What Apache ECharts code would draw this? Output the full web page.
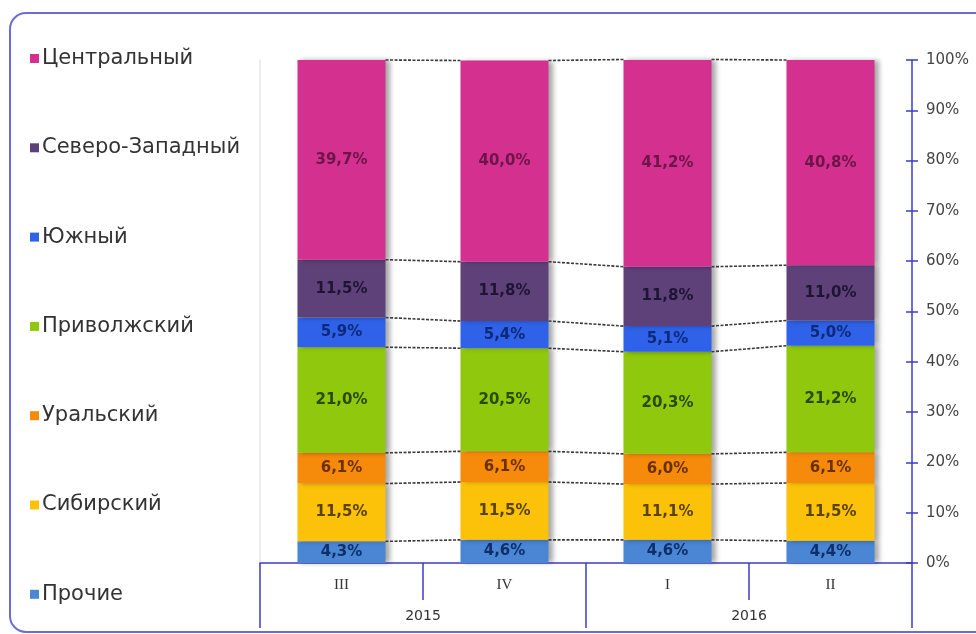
<!DOCTYPE html>
<html><head><meta charset="utf-8">
<script src="https://cdn.jsdelivr.net/npm/echarts@6/dist/echarts.min.js"></script>
<style>html,body{margin:0;padding:0;background:#fff}#c{width:976px;height:634px}</style>
</head><body><div id="c"></div>
<script>
const quarters = ['III', 'IV', 'I', 'II'];
const years = ['2015', '2016'];
const yTicks = ['0%','10%','20%','30%','40%','50%','60%','70%','80%','90%','100%'];
// stacking order: bottom -> top
const seriesNames = ['Прочие', 'Сибирский', 'Уральский', 'Приволжский', 'Южный', 'Северо-Западный', 'Центральный'];
const prochie      = [4.3, 4.6, 4.6, 4.4];
const sibirsky     = [11.5, 11.5, 11.1, 11.5];
const uralsky      = [6.1, 6.1, 6.0, 6.1];
const privolzhsky  = [21.0, 20.5, 20.3, 21.2];
const yuzhny       = [5.9, 5.4, 5.1, 5.0];
const severoZapad  = [11.5, 11.8, 11.8, 11.0];
const centralny    = [39.7, 40.0, 41.2, 40.8];

const values = [prochie, sibirsky, uralsky, privolzhsky, yuzhny, severoZapad, centralny];
const colors = ['#4a86d4', '#fcc20a', '#f58a0b', '#8fc80c', '#2f62e8', '#5f417a', '#d4308f'];
const labelColors = ['#0e2f6a', '#5a4200', '#6b3000', '#2a4a00', '#0c2a78', '#1e1433', '#6b1548'];

const axisBlue = '#3c3cc4';
const barFrac = 0.54;

// cumulative tops
const cum = values.map((_, k) => quarters.map((q, i) => {
  let s = 0; for (let j = 0; j <= k; j++) s += values[j][i]; return s;
}));
const connectors = [];
for (let i = 0; i < quarters.length - 1; i++) {
  for (let k = 0; k < values.length; k++) {
    connectors.push([i, cum[k][i], cum[k][i + 1]]);
  }
}

const fmt = v => v.toFixed(1).replace('.', ',') + '%';

const series = seriesNames.map((name, k) => ({
  name, type: 'bar', stack: 'total', xAxisIndex: 0, yAxisIndex: 0,
  barWidth: (barFrac * 100) + '%',
  data: values[k],
  itemStyle: { color: colors[k], shadowColor: 'rgba(0,0,0,0.35)', shadowBlur: 5, shadowOffsetX: 4 },
  label: { show: true, position: 'inside', formatter: p => fmt(p.value),
    color: labelColors[k], fontFamily: 'DejaVu Sans', fontSize: 15, fontWeight: 'bold' }
}));
series.push({
  type: 'custom', xAxisIndex: 0, yAxisIndex: 0, silent: true, z: 5,
  data: connectors,
  renderItem: (params, api) => {
    const i = api.value(0);
    const p1 = api.coord([i, api.value(1)]);
    const p2 = api.coord([i + 1, api.value(2)]);
    const half = api.size([1, 0])[0] * barFrac / 2;
    return { type: 'line', shape: { x1: p1[0] + half, y1: p1[1], x2: p2[0] - half, y2: p2[1] },
      style: { stroke: '#3a3a3a', lineWidth: 1.6, lineDash: [3, 1.5] } };
  }
});

const chart = echarts.init(document.getElementById('c'));
chart.setOption({
  animation: false,
  backgroundColor: '#fff',
  graphic: [{ type: 'rect', shape: { x: 10, y: 13, width: 980, height: 619, r: 16 },
    style: { fill: 'none', stroke: '#6c6cd8', lineWidth: 2 }, z: -1 }],
  legend: {
    orient: 'vertical', left: 30, top: 48, itemGap: 68.3, padding: 0,
    icon: 'rect', itemWidth: 9, itemHeight: 9,
    data: seriesNames.slice().reverse(),
    textStyle: { fontFamily: 'DejaVu Sans', fontSize: 21, color: '#333', padding: [0, 0, 0, -2] }
  },
  grid: { left: 260, right: 64, top: 60, bottom: 71 },
  xAxis: [
    { type: 'category', data: quarters, position: 'bottom',
      axisLine: { lineStyle: { color: axisBlue, width: 1.5 } },
      axisTick: { show: true, length: 37, lineStyle: { color: axisBlue, width: 1.5 } },
      axisLabel: { margin: 15, fontFamily: 'Liberation Serif', fontSize: 15, color: '#333' } },
    { type: 'category', data: years, position: 'bottom',
      axisLine: { show: false },
      axisTick: { show: true, length: 65, lineStyle: { color: axisBlue, width: 1.5 } },
      axisLabel: { margin: 46, fontFamily: 'DejaVu Sans', fontSize: 14, color: '#333' } }
  ],
  yAxis: [
    { type: 'value', position: 'right', min: 0, max: 100, interval: 10,
      axisLine: { show: true, lineStyle: { color: axisBlue, width: 1.5 } },
      axisTick: { show: true, length: 6, lineStyle: { color: axisBlue, width: 1.5 } },
      splitLine: { show: false },
      axisLabel: { margin: 14, fontFamily: 'DejaVu Sans', fontSize: 15, color: '#444',
        formatter: v => yTicks[Math.round(v / 10)] } },
    { type: 'value', position: 'right', min: 0, max: 100, interval: 10,
      axisLine: { show: false },
      axisTick: { show: true, inside: true, length: 6, lineStyle: { color: axisBlue, width: 1.5 } },
      splitLine: { show: false }, axisLabel: { show: false } },
    { type: 'value', position: 'left', min: 0, max: 100, interval: 10,
      axisLine: { show: true, lineStyle: { color: '#e6e6e6', width: 1.5 } },
      axisTick: { show: false }, splitLine: { show: false }, axisLabel: { show: false } }
  ],
  series
});
</script></body></html>
